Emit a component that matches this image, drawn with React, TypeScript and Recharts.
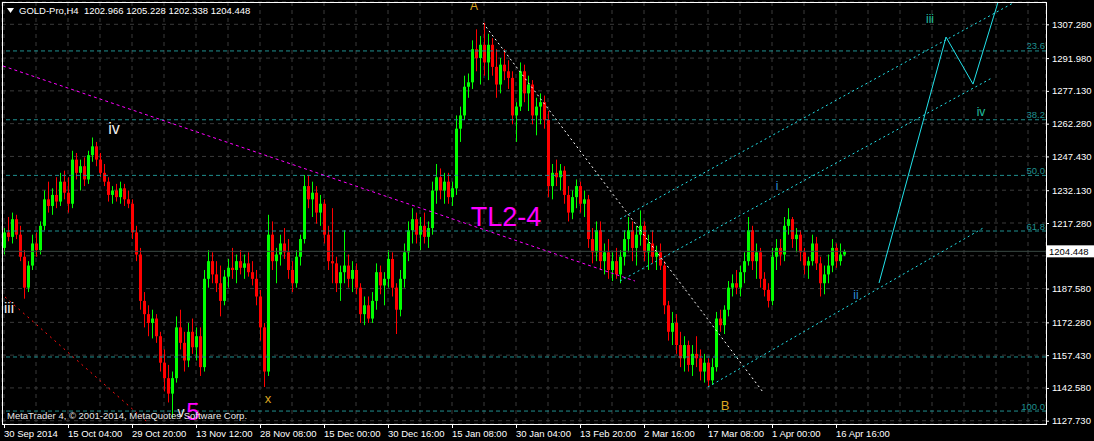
import React from 'react';
import {
  ComposedChart,
  Bar,
  Scatter,
  XAxis,
  YAxis,
  CartesianGrid,
  ReferenceLine,
} from 'recharts';

document.body.style.margin = '0';
document.body.style.background = '#000';

const FONT = '"Liberation Sans", Arial, sans-serif';
const GRID = '#3a3a3a';
const FIB = '#1f8f8f';
const CYAN = '#22e2ea';

// time axis, in H4 bars from the left edge
const timeLabels = [
  '30 Sep 2014', '15 Oct 04:00', '29 Oct 20:00', '13 Nov 12:00', '28 Nov 08:00',
  '15 Dec 00:00', '30 Dec 16:00', '15 Jan 08:00', '30 Jan 04:00', '13 Feb 20:00',
  '2 Mar 16:00', '17 Mar 08:00', '1 Apr 00:00', '16 Apr 16:00',
];
const firstBar = 2;
const gridStep = 32;
const barsShown = 1044;
const candleStep = 4;

const priceTicks = [
  1127.73, 1142.58, 1157.43, 1172.28, 1187.58, 1202.43, 1217.28,
  1232.13, 1247.43, 1262.28, 1277.13, 1291.98, 1307.28,
];
const priceMin = 1126.24;
const priceMax = 1317.38;

const quote = { open: 1202.966, high: 1205.228, low: 1202.338, close: 1204.448 };

// [open, high, low, close]
const candles: number[][] = [
  [1206, 1215, 1203, 1213], [1213, 1220, 1209, 1211], [1211, 1222, 1208, 1219], [1219, 1221, 1210, 1212],
  [1212, 1216, 1200, 1202], [1202, 1205, 1183, 1188], [1188, 1200, 1186, 1198], [1198, 1212, 1196, 1208],
  [1208, 1213, 1202, 1205], [1205, 1218, 1203, 1216], [1216, 1232, 1214, 1228], [1228, 1236, 1222, 1225],
  [1225, 1233, 1221, 1230], [1230, 1238, 1224, 1227], [1227, 1240, 1225, 1236], [1236, 1241, 1228, 1231],
  [1231, 1238, 1222, 1226], [1226, 1250, 1224, 1246], [1246, 1249, 1237, 1240], [1240, 1246, 1232, 1243],
  [1243, 1247, 1234, 1237], [1237, 1250, 1235, 1248], [1248, 1256, 1245, 1252], [1252, 1254, 1243, 1246],
  [1246, 1249, 1238, 1240], [1240, 1244, 1234, 1236], [1236, 1238, 1227, 1230], [1230, 1234, 1226, 1232],
  [1232, 1235, 1227, 1229], [1229, 1236, 1226, 1233], [1233, 1235, 1225, 1228], [1228, 1232, 1224, 1226],
  [1226, 1228, 1210, 1213], [1213, 1216, 1200, 1203], [1203, 1206, 1178, 1182], [1182, 1186, 1170, 1176],
  [1176, 1180, 1166, 1172], [1172, 1178, 1165, 1174], [1174, 1176, 1163, 1166], [1166, 1168, 1150, 1154],
  [1154, 1160, 1141, 1147], [1147, 1153, 1136, 1140], [1140, 1150, 1129, 1147], [1147, 1175, 1145, 1170],
  [1170, 1178, 1160, 1163], [1163, 1168, 1150, 1155], [1155, 1172, 1152, 1168], [1168, 1174, 1158, 1161],
  [1161, 1170, 1155, 1166], [1166, 1170, 1148, 1152], [1152, 1196, 1150, 1192], [1192, 1205, 1188, 1200],
  [1200, 1204, 1190, 1194], [1194, 1200, 1186, 1190], [1190, 1198, 1175, 1182], [1182, 1196, 1180, 1193],
  [1193, 1201, 1188, 1197], [1197, 1206, 1192, 1196], [1196, 1203, 1190, 1200], [1200, 1205, 1194, 1197],
  [1197, 1203, 1192, 1199], [1199, 1204, 1193, 1195], [1195, 1200, 1189, 1192], [1192, 1196, 1180, 1184],
  [1184, 1187, 1164, 1170], [1170, 1172, 1143, 1150], [1150, 1221, 1148, 1212], [1212, 1218, 1196, 1200],
  [1200, 1206, 1190, 1203], [1203, 1212, 1198, 1208], [1208, 1215, 1201, 1204], [1204, 1210, 1192, 1196],
  [1196, 1200, 1186, 1190], [1190, 1205, 1188, 1202], [1202, 1212, 1198, 1210], [1210, 1239, 1208, 1234],
  [1234, 1239, 1224, 1228], [1228, 1236, 1220, 1231], [1231, 1234, 1217, 1222], [1222, 1230, 1216, 1226],
  [1226, 1228, 1208, 1212], [1212, 1216, 1196, 1200], [1200, 1224, 1190, 1199], [1199, 1202, 1186, 1190],
  [1190, 1198, 1182, 1195], [1195, 1214, 1190, 1198], [1198, 1203, 1188, 1192], [1192, 1200, 1186, 1196],
  [1196, 1199, 1185, 1188], [1188, 1190, 1172, 1176], [1176, 1184, 1171, 1180], [1180, 1184, 1172, 1174],
  [1174, 1186, 1172, 1182], [1182, 1199, 1178, 1195], [1195, 1198, 1185, 1189], [1189, 1195, 1180, 1192],
  [1192, 1205, 1188, 1201], [1201, 1204, 1184, 1188], [1188, 1190, 1167, 1178], [1178, 1196, 1175, 1192],
  [1192, 1208, 1188, 1204], [1204, 1218, 1200, 1214], [1214, 1224, 1208, 1219], [1219, 1222, 1208, 1212],
  [1212, 1220, 1205, 1216], [1216, 1222, 1208, 1211], [1211, 1218, 1206, 1215], [1215, 1236, 1212, 1232],
  [1232, 1244, 1226, 1238], [1238, 1242, 1228, 1232], [1232, 1240, 1226, 1236], [1236, 1240, 1226, 1229],
  [1229, 1236, 1225, 1233], [1233, 1266, 1230, 1260], [1260, 1270, 1254, 1266], [1266, 1284, 1264, 1279],
  [1279, 1285, 1274, 1281], [1281, 1300, 1278, 1296], [1296, 1305, 1286, 1292], [1292, 1302, 1280, 1298],
  [1298, 1308, 1284, 1290], [1290, 1303, 1282, 1298], [1298, 1301, 1284, 1288], [1288, 1296, 1274, 1280],
  [1280, 1292, 1276, 1289], [1289, 1296, 1282, 1286], [1286, 1291, 1278, 1283], [1283, 1286, 1262, 1266],
  [1266, 1272, 1254, 1270], [1270, 1290, 1268, 1286], [1286, 1289, 1272, 1276], [1276, 1284, 1268, 1280],
  [1280, 1282, 1262, 1266], [1266, 1274, 1257, 1270], [1270, 1276, 1262, 1272], [1272, 1275, 1260, 1264],
  [1264, 1268, 1229, 1234], [1234, 1244, 1228, 1240], [1240, 1246, 1234, 1238], [1238, 1244, 1232, 1241],
  [1241, 1243, 1226, 1230], [1230, 1234, 1218, 1222], [1222, 1232, 1219, 1229], [1229, 1237, 1224, 1234],
  [1234, 1236, 1222, 1226], [1226, 1232, 1220, 1228], [1228, 1230, 1206, 1210], [1210, 1215, 1199, 1204],
  [1204, 1218, 1200, 1214], [1214, 1218, 1196, 1200], [1200, 1208, 1194, 1204], [1204, 1210, 1192, 1196],
  [1196, 1204, 1191, 1200], [1200, 1206, 1192, 1194], [1194, 1205, 1190, 1202], [1202, 1214, 1198, 1210],
  [1210, 1220, 1204, 1214], [1214, 1218, 1200, 1206], [1206, 1216, 1198, 1212], [1212, 1223, 1207, 1216],
  [1216, 1218, 1200, 1204], [1204, 1212, 1196, 1208], [1208, 1214, 1199, 1202], [1202, 1207, 1196, 1204],
  [1204, 1208, 1196, 1198], [1198, 1200, 1176, 1180], [1180, 1182, 1164, 1168], [1168, 1177, 1162, 1172],
  [1172, 1176, 1158, 1162], [1162, 1168, 1152, 1156], [1156, 1166, 1150, 1162], [1162, 1164, 1150, 1153],
  [1153, 1162, 1148, 1158], [1158, 1166, 1152, 1156], [1156, 1160, 1146, 1150], [1150, 1158, 1145, 1154],
  [1154, 1156, 1143, 1146], [1146, 1156, 1144, 1152], [1152, 1177, 1150, 1174], [1174, 1178, 1168, 1171],
  [1171, 1180, 1167, 1178], [1178, 1191, 1175, 1188], [1188, 1194, 1184, 1190], [1190, 1196, 1185, 1188],
  [1188, 1198, 1184, 1195], [1195, 1204, 1190, 1200], [1200, 1220, 1198, 1214], [1214, 1216, 1196, 1200],
  [1200, 1208, 1192, 1204], [1204, 1206, 1188, 1192], [1192, 1195, 1184, 1187], [1187, 1190, 1179, 1182],
  [1182, 1206, 1180, 1202], [1202, 1210, 1196, 1206], [1206, 1210, 1198, 1203], [1203, 1220, 1200, 1216],
  [1216, 1224, 1212, 1219], [1219, 1220, 1206, 1210], [1210, 1215, 1204, 1212], [1212, 1214, 1200, 1204],
  [1204, 1206, 1194, 1198], [1198, 1202, 1192, 1200], [1200, 1212, 1198, 1208], [1208, 1211, 1196, 1199],
  [1199, 1202, 1184, 1190], [1190, 1198, 1185, 1194], [1194, 1203, 1190, 1198], [1198, 1210, 1195, 1206],
  [1206, 1208, 1197, 1200], [1200, 1208, 1198, 1203],
  [quote.open, quote.high, quote.low, quote.close],
];

// fibonacci retracement
const fibZero = 1345.6;
const fibFull = 1132.1;
const fibLevels = [23.6, 38.2, 50.0, 61.8, 100.0];
const extraLevel = 1156.6;

// drawn objects, [bar, price]
const trendLines = [
  { from: [1, 1288.4], to: [633, 1191.0], color: '#ff00ff', dash: '3 3' },
  { from: [3, 1183.8], to: [145, 1127.2], color: '#ff1010', dash: '2 4' },
  { from: [481, 1307.9], to: [761, 1140.7], color: '#ffffff', dash: '2 3' },
  { from: [618, 1219.1], to: [1011, 1316.9], color: CYAN, dash: '2 3' },
  { from: [618, 1191.0], to: [990, 1283.0], color: CYAN, dash: '2 3' },
  { from: [706, 1143.0], to: [983, 1215.5], color: CYAN, dash: '2 3' },
];
const projection = [
  [877, 1190.1],
  [944, 1301.5],
  [971, 1280.2],
  [996, 1317.3],
];

const waveLabels = [
  { t: 472, p: 1315.6, text: 'A', color: '#daa520', size: 12 },
  { t: 112, p: 1260.3, text: 'iv', color: '#f0f0f0', size: 16 },
  { t: 7, p: 1178.8, text: 'iii', color: '#f0f0f0', size: 15 },
  { t: 179, p: 1131.7, text: 'v', color: '#f0f0f0', size: 14 },
  { t: 191, p: 1132.1, text: '5', color: '#ff00ff', size: 24 },
  { t: 266, p: 1138.0, text: 'x', color: '#daa520', size: 13 },
  { t: 504, p: 1220.0, text: 'TL2-4', color: '#ff00ff', size: 27 },
  { t: 723, p: 1134.4, text: 'B', color: '#daa520', size: 13 },
  { t: 775, p: 1234.0, text: 'i', color: '#2b8fd8', size: 12 },
  { t: 854, p: 1184.7, text: 'ii', color: '#2b8fd8', size: 12 },
  { t: 928, p: 1309.7, text: 'iii', color: '#20c0a0', size: 12 },
  { t: 979, p: 1267.6, text: 'iv', color: '#20c0a0', size: 12 },
];

const rows = candles.map(([o, h, l, c], i) => ({
  t: firstBar + i * candleStep,
  range: [l, h],
  o, h, l, c,
}));

const gridTicks: number[] = [];
for (let t = firstBar; t < barsShown; t += gridStep) gridTicks.push(t);

function Candle(props: any) {
  const { x, y, width, height, payload } = props;
  if (x == null || !payload) return null;
  const { o, h, l, c } = payload;
  const top = Math.min(y, y + height);
  const hh = Math.abs(height);
  const span = h - l || 1;
  const py = (v: number) => top + ((h - v) / span) * hh;
  const cx = Math.round(x + width / 2);
  const color = c >= o ? '#00ff00' : '#ff0000';
  const b1 = py(Math.max(o, c));
  const b2 = py(Math.min(o, c));
  return (
    <g>
      <rect x={cx} y={top} width={1} height={Math.max(hh, 1)} fill={color} />
      <rect x={cx - 1} y={b1} width={3} height={Math.max(b2 - b1, 1)} fill={color} />
    </g>
  );
}

function WaveLabel(props: any) {
  const { cx, cy, payload } = props;
  if (cx == null) return null;
  return (
    <text x={cx} y={cy} fill={payload.color} fontSize={payload.size} fontFamily={FONT}
      textAnchor="middle" dominantBaseline="central">
      {payload.text}
    </text>
  );
}

function TimeTick(props: any) {
  const { x, y, payload } = props;
  const k = Math.round((payload.value - firstBar) / gridStep);
  if (k % 2 !== 0) return <g />;
  const label = timeLabels[k / 2];
  if (!label) return <g />;
  return (
    <g>
      <line x1={x + 0.5} x2={x + 0.5} y1={y} y2={y + 4} stroke="#fff" />
      <text x={x} y={y + 13} fill="#fff" fontSize={9.5} fontFamily={FONT}>{label}</text>
    </g>
  );
}

// price scale tick; the label under the live price tag is hidden by the tag
function PriceTick(props: any) {
  const { x, y, payload } = props;
  const hidden = Math.abs(payload.value - quote.close) < 4;
  return (
    <g>
      <line x1={x - 6} x2={x - 3} y1={y + 0.5} y2={y + 0.5} stroke="#fff" />
      {!hidden && (
        <text x={x} y={y} dominantBaseline="central" fill="#fff" fontSize={9.5} fontFamily={FONT}>
          {payload.value.toFixed(3)}
        </text>
      )}
    </g>
  );
}

const fibLabel = (text: string) => (props: any) => {
  const vb = props.viewBox;
  if (!vb) return null;
  return (
    <text x={vb.x + vb.width - 1} y={vb.y - 5} textAnchor="end" dominantBaseline="central"
      fill={FIB} fontSize={9.5} fontFamily={FONT}>
      {text}
    </text>
  );
};

function PriceTag(props: any) {
  const vb = props.viewBox;
  if (!vb) return null;
  const x = vb.x + vb.width;
  return (
    <g>
      <rect x={x + 1} y={vb.y - 6} width={48} height={12} fill="#fff" />
      <text x={x + 3} y={vb.y} dominantBaseline="central" fill="#000" fontSize={9.5} fontFamily={FONT}>
        {quote.close.toFixed(3)}
      </text>
    </g>
  );
}

export default function App() {
  return (
    <div style={{ position: 'relative', width: 1094, height: 441, background: '#000', overflow: 'hidden' }}>
      <ComposedChart width={1094} height={441} data={rows} margin={{ top: 2, right: 0, bottom: 0, left: 2 }}>
        <CartesianGrid stroke={GRID} strokeDasharray="4 4" />
        <XAxis type="number" dataKey="t" domain={[0, barsShown]} ticks={gridTicks} interval={0}
          allowDataOverflow height={17} axisLine={false} tickLine={false} tickSize={0} tickMargin={0}
          tick={<TimeTick />} />
        <YAxis orientation="right" type="number" domain={[priceMin, priceMax]} ticks={priceTicks}
          allowDataOverflow width={48} axisLine={false} tickLine={false} tickSize={3} tickMargin={3}
          interval={0} tick={<PriceTick />} />

        {fibLevels.map((lvl) => (
          <ReferenceLine key={lvl} y={fibFull + (fibZero - fibFull) * (1 - lvl / 100)}
            stroke={FIB} strokeDasharray="4 3" label={fibLabel(lvl.toFixed(1))} />
        ))}
        <ReferenceLine y={extraLevel} stroke={FIB} strokeDasharray="4 3" />
        <ReferenceLine y={quote.close} stroke="#3a4a44" label={<PriceTag />} />

        {trendLines.map((ln, i) => (
          <ReferenceLine key={i} ifOverflow="visible" stroke={ln.color} strokeDasharray={ln.dash}
            segment={[{ x: ln.from[0], y: ln.from[1] }, { x: ln.to[0], y: ln.to[1] }]} />
        ))}
        {projection.slice(1).map((pt, i) => (
          <ReferenceLine key={'p' + i} ifOverflow="visible" stroke={CYAN}
            segment={[{ x: projection[i][0], y: projection[i][1] }, { x: pt[0], y: pt[1] }]} />
        ))}

        <Bar dataKey="range" barSize={4} shape={<Candle />} isAnimationActive={false} />
        <Scatter data={waveLabels} dataKey="p" shape={<WaveLabel />} isAnimationActive={false} />
      </ComposedChart>

      <div style={{ position: 'absolute', left: 2, top: 2, width: 1045, height: 423, border: '1px solid #fff', boxSizing: 'border-box', pointerEvents: 'none' }} />
      <div style={{ position: 'absolute', left: 7, top: 5, color: '#fff', fontSize: 9.5, fontFamily: FONT, whiteSpace: 'pre', lineHeight: '12px' }}>
        <svg width={7} height={6} style={{ marginRight: 5, verticalAlign: 'middle' }}>
          <polygon points="0,0 7,0 3.5,5" fill="#fff" />
        </svg>
        {'GOLD-Pro,H4  ' + [quote.open, quote.high, quote.low, quote.close].map((v) => v.toFixed(3)).join(' ')}
      </div>
      <div style={{ position: 'absolute', left: 7, top: 410, color: '#e8e8e8', fontSize: 9.5, fontFamily: FONT, whiteSpace: 'pre', lineHeight: '12px' }}>
        MetaTrader 4, © 2001-2014, MetaQuotes Software Corp.
      </div>
    </div>
  );
}
